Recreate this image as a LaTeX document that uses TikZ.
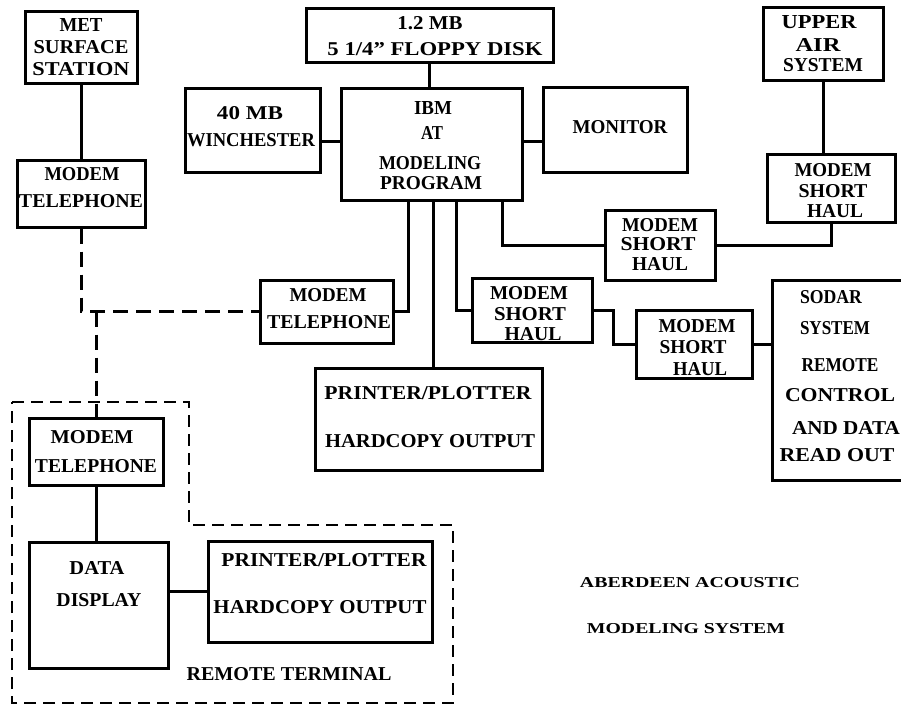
\documentclass[tikz,border=0pt]{standalone}
\usepackage{fontspec}
\setmainfont{Liberation Serif}
\usepackage{graphicx}
\newcommand\tl[5]{\node[lbl] (#1) at (#2,#3) {\resizebox{#4pt}{13pt}{#5}};}
\newcommand\tls[5]{\node[lbl,text height=10pt] (#1) at (#2,#3) {\resizebox{#4pt}{10pt}{#5}};}
\begin{document}
\begin{tikzpicture}[x=1pt,y=-1pt,
  box/.style={draw, line width=3pt, inner sep=0pt},
  lbl/.style={inner sep=0pt, text height=13pt, text depth=0pt, font=\bfseries},
  wire/.style={line width=3pt},
  dashwire/.style={line width=3pt, dash pattern=on 15pt off 8pt},
  outline/.style={line width=1.3pt, dash pattern=on 12pt off 7pt}]
\useasboundingbox (0,0) rectangle (901,707);
% boxes
\node[box, minimum width=112pt, minimum height=72pt] (met) at (81,47) {};
\node[box, minimum width=128pt, minimum height=67pt] (modemTL) at (81,193.5) {};
\node[box, minimum width=135pt, minimum height=84pt] (win) at (252.5,130) {};
\node[box, minimum width=247pt, minimum height=54pt] (floppy) at (429.5,35) {};
\node[box, minimum width=181pt, minimum height=112pt] (ibm) at (431.5,144) {};
\node[box, minimum width=144pt, minimum height=85pt] (monitor) at (615,129.5) {};
\node[box, minimum width=120pt, minimum height=73pt] (upper) at (823,43.5) {};
\node[box, minimum width=128pt, minimum height=68pt] (shUR) at (831,188) {};
\node[box, minimum width=110pt, minimum height=70pt] (shM) at (660,245) {};
\node[box, minimum width=120pt, minimum height=64pt] (shL) at (532,310) {};
\node[box, minimum width=116pt, minimum height=68pt] (shR) at (694,344) {};
\node[box, minimum width=150pt, minimum height=200pt] (sodar) at (847,380) {};
\node[box, minimum width=133pt, minimum height=63pt] (modemM) at (326.5,311.5) {};
\node[box, minimum width=227pt, minimum height=102pt] (printC) at (428.5,419) {};
\node[box, minimum width=134pt, minimum height=67pt] (modemB) at (96,451.5) {};
\node[box, minimum width=139pt, minimum height=126pt] (data) at (98.5,605) {};
\node[box, minimum width=224pt, minimum height=101pt] (printR) at (320,591.5) {};
% helper coordinates
\coordinate (xa) at (408,0);
\coordinate (xb) at (433,0);
\coordinate (xc) at (456,0);
\coordinate (xd) at (502,0);
\coordinate (xe) at (613,0);
\coordinate (ya) at (0,141);
% connectors
\draw[wire] (met.south) -- (modemTL.north);
\draw[wire] (floppy.south) -- (floppy.south |- ibm.north);
\draw[wire] (ibm.west |- ya) -- (win.east |- ya);
\draw[wire] (ibm.east |- ya) -- (monitor.west |- ya);
\draw[wire] (upper.south) -- (upper.south |- shUR.north);
\draw[wire] (ibm.south -| xa) |- (modemM.east);
\draw[wire] (ibm.south -| xb) -- (printC.north -| xb);
\draw[wire] (ibm.south -| xc) |- (shL.west);
\draw[wire] (ibm.south -| xd) |- (shM.west);
\draw[wire] (shM.east) -| (shUR.south);
\draw[wire] (shL.east) -- (shL.east -| xe) |- (shR.west);
\draw[wire] (shR.east) -- (shR.east -| sodar.west);
\draw[dashwire] (modemTL.south) |- (modemM.west);
\draw[dashwire] (modemB.north |- modemM.west) -- (modemB.north);
\draw[wire] (modemB.south) -- (modemB.south |- data.north);
\draw[wire] (printR.west -| data.east) -- (printR.west);
\draw[outline] (12,402) -- (189,402) -- (189,525) -- (453,525) -- (453,703) -- (12,703) -- cycle;
% labels
\tl{t1}{81}{25}{43}{MET}
\tl{t2}{81}{47}{95}{SURFACE}
\tl{t3}{81}{69}{97}{STATION}
\tl{t4}{82}{174}{75}{MODEM}
\tl{t5}{81}{201}{124}{TELEPHONE}
\tl{t6}{250}{113}{66}{40 MB}
\tl{t7}{251}{140}{128}{WINCHESTER}
\tl{t8}{430}{23}{65}{1.2 MB}
\tl{t9}{435}{49}{215}{5 1/4" FLOPPY DISK}
\tl{t10}{433}{108}{38}{IBM}
\tl{t11}{432}{133}{22}{AT}
\tl{t12}{430}{163}{102}{MODELING}
\tl{t13}{431}{183}{102}{PROGRAM}
\tl{t14}{620}{127}{95}{MONITOR}
\tl{t15}{819}{22}{75}{UPPER}
\tl{t16}{818}{45}{45}{AIR}
\tl{t17}{823}{65}{80}{SYSTEM}
\tl{t18}{833}{170}{77}{MODEM}
\tl{t19}{833}{191}{69}{SHORT}
\tl{t20}{835}{211}{56}{HAUL}
\tl{t21}{660}{225}{76}{MODEM}
\tl{t22}{658}{244}{75}{SHORT}
\tl{t23}{660}{264}{56}{HAUL}
\tl{t24}{529}{293}{78}{MODEM}
\tl{t25}{530}{314}{72}{SHORT}
\tl{t26}{533}{334}{57}{HAUL}
\tl{t27}{697}{326}{77}{MODEM}
\tl{t28}{693}{347}{67}{SHORT}
\tl{t29}{700}{369}{54}{HAUL}
\tl{t30}{831}{297}{62}{SODAR}
\tl{t31}{835}{328}{70}{SYSTEM}
\tl{t32}{840}{365}{77}{REMOTE}
\tl{t33}{840}{395}{110}{CONTROL}
\tl{t34}{846}{428}{108}{AND DATA}
\tl{t35}{837}{455}{115}{READ OUT}
\tl{t36}{328}{295}{77}{MODEM}
\tl{t37}{329}{322}{124}{TELEPHONE}
\tl{t38}{428}{393}{207}{PRINTER/PLOTTER}
\tl{t39}{430}{441}{210}{HARDCOPY OUTPUT}
\tl{t40}{92}{437}{83}{MODEM}
\tl{t41}{96}{466}{122}{TELEPHONE}
\tl{t42}{97}{568}{55}{DATA}
\tl{t43}{99}{600}{85}{DISPLAY}
\tl{t44}{324}{560}{205}{PRINTER/PLOTTER}
\tl{t45}{320}{607}{213}{HARDCOPY OUTPUT}
\tl{t46}{289}{674}{205}{REMOTE TERMINAL}
\tls{t47}{690}{582}{220}{ABERDEEN ACOUSTIC}
\tls{t48}{686}{628}{198}{MODELING SYSTEM}
\end{tikzpicture}
\end{document}
